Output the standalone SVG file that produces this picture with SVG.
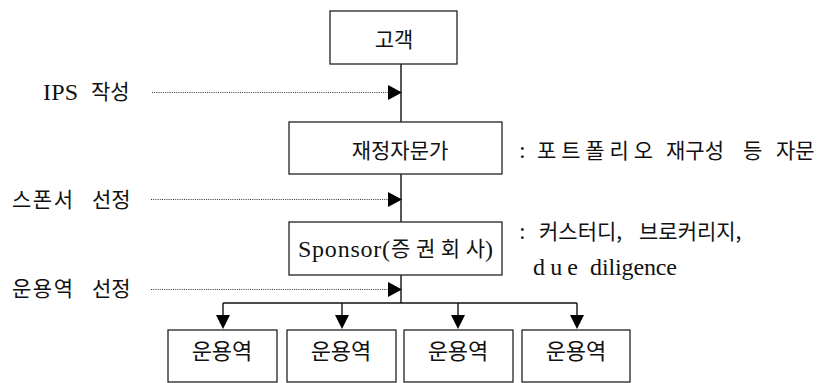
<svg xmlns="http://www.w3.org/2000/svg" width="832" height="383" viewBox="0 0 832 383">
<defs>
<style>
.box{fill:#fff;stroke:#222;stroke-width:1.3}
.kr{font-family:"Noto Sans CJK KR",sans-serif;font-size:21px;fill:#111}
.lat{font-family:"Liberation Serif",serif;font-size:24px;fill:#111}
.big{font-size:22px}
.c{text-anchor:middle}
.ln{stroke:#111;stroke-width:1.4;fill:none}
.dot{stroke:#333;stroke-width:1.2;stroke-dasharray:1 1.2;fill:none}
.ah{fill:#000}
</style>
</defs>
<rect width="832" height="383" fill="#fff"/>
<g id="connectors">
<line class="ln" x1="401" y1="64" x2="401" y2="122"/>
<line class="ln" x1="401" y1="174" x2="401" y2="222"/>
<line class="ln" x1="401" y1="275" x2="401" y2="303"/>
<line class="ln" x1="223" y1="303" x2="577" y2="303"/>
<line class="ln" x1="223" y1="303" x2="223" y2="318"/>
<line class="ln" x1="342" y1="303" x2="342" y2="318"/>
<line class="ln" x1="458" y1="303" x2="458" y2="318"/>
<line class="ln" x1="577" y1="303" x2="577" y2="318"/>
<polygon class="ah" points="216,315 230,315 223,329"/>
<polygon class="ah" points="335,315 349,315 342,329"/>
<polygon class="ah" points="451,315 465,315 458,329"/>
<polygon class="ah" points="570,315 584,315 577,329"/>
<line class="dot" x1="152" y1="92.5" x2="389" y2="92.5"/>
<polygon class="ah" points="388,85 402,92.5 388,100"/>
<line class="dot" x1="151" y1="199.5" x2="389" y2="199.5"/>
<polygon class="ah" points="388,192 402,199.5 388,207"/>
<line class="dot" x1="151" y1="289.5" x2="389" y2="289.5"/>
<polygon class="ah" points="388,282 402,289.5 388,297"/>
</g>
<g id="client">
<rect class="box" x="330" y="11" width="127" height="53"/>
<text class="kr c" x="394" y="47">고객</text>
</g>
<g id="advisor">
<rect class="box" x="289" y="122" width="213" height="52"/>
<text class="kr c" x="400" y="158">재정자문가</text>
</g>
<g id="sponsor">
<rect class="box" x="289" y="222" width="213" height="53"/>
<text class="lat" x="298" y="257" textLength="92" lengthAdjust="spacing">Sponsor(</text>
<text class="kr" x="391" y="256" textLength="94" lengthAdjust="spacing">증권회사</text>
<text class="lat" x="485" y="257">)</text>
</g>
<g id="manager1">
<rect class="box" x="168" y="330" width="109" height="52"/>
<text class="kr big c" x="222" y="359">운용역</text>
</g>
<g id="manager2">
<rect class="box" x="287" y="330" width="109" height="52"/>
<text class="kr big c" x="341" y="359">운용역</text>
</g>
<g id="manager3">
<rect class="box" x="404" y="330" width="109" height="52"/>
<text class="kr big c" x="458" y="359">운용역</text>
</g>
<g id="manager4">
<rect class="box" x="522" y="330" width="108" height="52"/>
<text class="kr big c" x="576" y="359">운용역</text>
</g>
<g id="labels">
<text class="lat" x="43" y="100" textLength="35" lengthAdjust="spacing">IPS</text>
<text class="kr" x="91" y="99">작성</text>
<text class="kr" x="12" y="207" textLength="61" lengthAdjust="spacing">스폰서</text>
<text class="kr" x="92" y="207">선정</text>
<text class="kr" x="12" y="296" textLength="61" lengthAdjust="spacing">운용역</text>
<text class="kr" x="92" y="296">선정</text>
<text class="lat" x="519" y="158">:</text>
<text class="kr" x="537" y="158" textLength="116" lengthAdjust="spacing">포트폴리오</text>
<text class="kr" x="666" y="158">재구성</text>
<text class="kr" x="743" y="158">등</text>
<text class="kr" x="776" y="158">자문</text>
<text class="lat" x="519" y="239">:</text>
<text class="kr" x="539" y="239">커스터디,</text>
<text class="kr" x="639" y="239">브로커리지,</text>
<text class="lat" x="533" y="275" textLength="45" lengthAdjust="spacing">due</text>
<text class="lat" x="590" y="275" textLength="87" lengthAdjust="spacing">diligence</text>
</g>
</svg>
